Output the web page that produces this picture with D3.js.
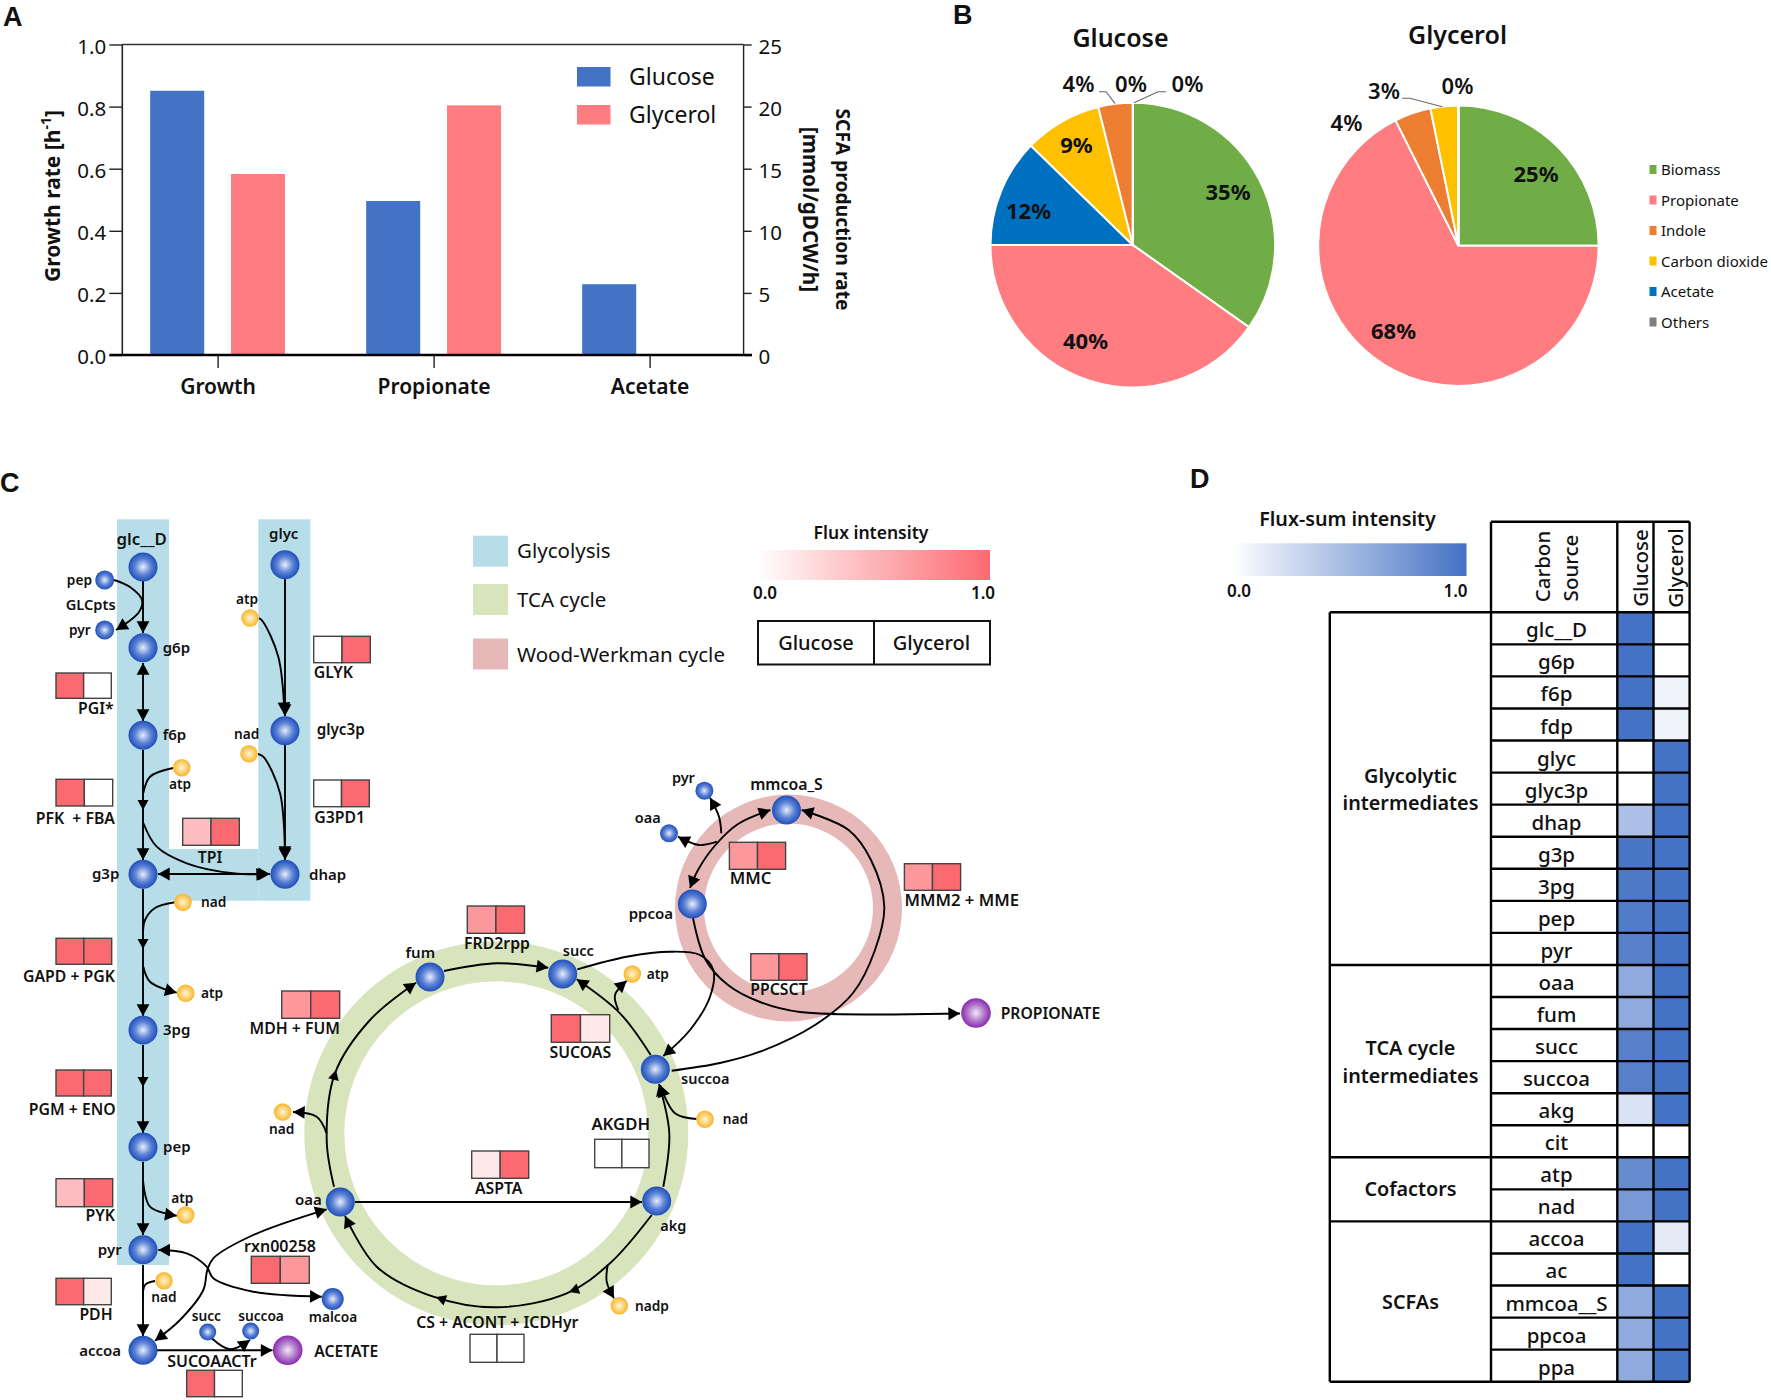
<!DOCTYPE html>
<html><head><meta charset="utf-8">
<script src="https://cdn.jsdelivr.net/npm/d3@7"></script>
<style>html,body{margin:0;background:#fff}svg{display:block}text{font-family:"Noto Sans","Open Sans",sans-serif;fill:#111;white-space:pre}</style>
</head><body><div id="c"></div>
<script>
// ---------- DATA ----------
const barCategories = ["Growth","Propionate","Acetate"];
const barSeries = ["Glucose","Glycerol"];
const growthGlucose = 0.851, growthGlycerol = 0.583;      // left axis
const scfaGlucose = [12.4, 5.7], scfaGlycerol = [20.1, 0]; // right axis
const leftTicks = [0,0.2,0.4,0.6,0.8,1.0];
const rightTicks = [0,5,10,15,20,25];

const legendOrder = ["Biomass","Propionate","Indole","Carbon dioxide","Acetate","Others"];
const pieGlucoseCats = ["Biomass","Propionate","Acetate","Carbon dioxide","Indole","Others"];
const pieGlucose = [34.8,40.2,12.3,8.8,3.9,0];
const pieGlycerolCats = ["Biomass","Propionate","Indole","Carbon dioxide","Acetate","Others"];
const pieGlycerol = [25.0,67.6,4.2,3.2,0,0];

const metabolites = ["glc__D","g6p","f6p","fdp","glyc","glyc3p","dhap","g3p","3pg","pep","pyr","oaa","fum","succ","succoa","akg","cit","atp","nad","accoa","ac","mmcoa__S","ppcoa","ppa"];
const fluxSumGlucose = [1,1,1,1,0,0,.45,.97,.95,.93,.9,.6,.6,.9,.9,.2,0,.82,.72,1,1,.6,.6,.6];
const fluxSumGlycerol = [0,0,.08,.08,1,1,1,1,1,1,1,1,1,1,1,1,0,1,1,.15,0,1,1,1];
const groups = ["Glycolytic\nintermediates","TCA cycle\nintermediates","Cofactors","SCFAs"];
const groupSizes = [11,6,2,5];

const reactions = ["GLYK","PGI*","PFK  + FBA","G3PD1","TPI","GAPD + PGK","PGM + ENO","PYK","PDH","rxn00258","SUCOAACTr","MDH + FUM","FRD2rpp","SUCOAS","AKGDH","ASPTA","CS + ACONT + ICDHyr","MMC","MMM2 + MME","PPCSCT"];
const fluxGlucose  = [0,1,1,0,.45,1,1,.45,1,1,1,.7,.7,1,0,.15,0,.7,.7,.7];
const fluxGlycerol = [1,0,0,1,1,1,1,1,.15,.7,0,1,1,.15,0,1,0,1,1,1];

// ---------- PAGE ----------
const svg = d3.select("#c").append("svg").attr("width",1771).attr("height",1400);
const defs = svg.append("defs");
const BLUE="#4472C4", RED="#FF7C80";
function txt(g,s,x,y,o={}){
  return g.append("text").attr("x",x).attr("y",y).attr("dominant-baseline","central")
   .attr("text-anchor",o.a||"middle").attr("font-size",o.s||14).attr("font-weight",o.w||400)
   .style("font-family",o.f||null).attr("transform",o.r?`rotate(${o.r} ${x} ${y})`:null).text(s);
}
// Panel letters
[["A",3,17],["B",953,15],["C",0,483],["D",1190,479]].forEach(d=>txt(svg,d[0],d[1],d[2],{a:"start",s:27,w:700,f:"'Liberation Sans',Arial,sans-serif"}));

// ---------- PANEL A ----------
const A = svg.append("g");
const ax = {l:122.3,r:743.6,t:44.5,b:355};
const yLeft = d3.scaleLinear().domain([0,1]).range([ax.b,ax.t]);
const yRight = d3.scaleLinear().domain([0,25]).range([ax.b,ax.t]);
const xCat = d3.scalePoint().domain(barCategories).range([217.6,649.6]);
const barW = 54, barOff = 40.4;
const barData = [
 {c:"Growth",s:0,top:yLeft(growthGlucose)},{c:"Growth",s:1,top:yLeft(growthGlycerol)},
 {c:"Propionate",s:0,top:yRight(scfaGlucose[0])},{c:"Propionate",s:1,top:yRight(scfaGlycerol[0])},
 {c:"Acetate",s:0,top:yRight(scfaGlucose[1])},{c:"Acetate",s:1,top:yRight(scfaGlycerol[1])}];
A.selectAll("rect.b").data(barData).join("rect").attr("class","b")
 .attr("x",d=>xCat(d.c)+(d.s?barOff:-barOff)-barW/2).attr("width",barW)
 .attr("y",d=>d.top).attr("height",d=>ax.b-d.top).attr("fill",d=>d.s?RED:BLUE);
const leftAxis = A.append("g").attr("transform",`translate(${ax.l},0)`).call(d3.axisLeft(yLeft).tickValues(leftTicks).tickFormat(d3.format(".1f")).tickSize(13).tickPadding(3));
const rightAxis = A.append("g").attr("transform",`translate(${ax.r},0)`).call(d3.axisRight(yRight).tickValues(rightTicks).tickSize(8).tickPadding(7));
const botAxis = A.append("g").attr("transform",`translate(0,${ax.b})`).call(d3.axisBottom(xCat).tickSize(13).tickPadding(11));
[leftAxis,rightAxis,botAxis].forEach(g=>{g.select(".domain").remove();g.selectAll("line").attr("stroke","#222").attr("stroke-width",1.4);g.selectAll("text").attr("font-size",20.5).style("fill","#111");});
leftAxis.selectAll("text").attr("dy","0.42em");rightAxis.selectAll("text").attr("dy","0.42em");
botAxis.selectAll("text").attr("font-size",21).attr("font-weight",600);
A.append("line").attr("x1",ax.l).attr("x2",ax.r).attr("y1",ax.t).attr("y2",ax.t).attr("stroke","#333").attr("stroke-width",1.6);
A.append("line").attr("x1",ax.l).attr("x2",ax.l).attr("y1",ax.t).attr("y2",ax.b).attr("stroke","#222").attr("stroke-width",1.6);
A.append("line").attr("x1",ax.r).attr("x2",ax.r).attr("y1",ax.t).attr("y2",ax.b).attr("stroke","#222").attr("stroke-width",1.4);
A.append("line").attr("x1",109.5).attr("x2",752).attr("y1",ax.b).attr("y2",ax.b).attr("stroke","#000").attr("stroke-width",2.5);
barSeries.forEach((s,i)=>{
  const y=[67,105][i];
  A.append("rect").attr("x",577).attr("y",y).attr("width",33.5).attr("height",19.5).attr("fill",i?RED:BLUE);
  txt(A,s,629,y+9,{a:"start",s:23});
});
const t1=A.append("text").attr("transform","translate(52,196) rotate(-90)").attr("text-anchor","middle").attr("dominant-baseline","central").attr("font-size",21).attr("font-weight",700).text("Growth rate [h");
t1.append("tspan").attr("font-size",14).attr("dy",-7).text("-1");
t1.append("tspan").attr("dy",7).text("]");
txt(A,"SCFA production rate",843.5,209.5,{s:19.3,w:700,r:90});
txt(A,"[mmol/gDCW/h]",811,209.5,{s:20.7,w:700,r:90});

// ---------- PANEL B ----------
const B = svg.append("g");
const pieColors = d3.scaleOrdinal().domain(legendOrder).range(["#70AD47","#FF7C80","#ED7D31","#FFC000","#0070C0","#7F7F7F"]);
const pieGen = d3.pie().sort(null).value(d=>d.v);
function drawPie(cats,vals,cx,cy,r){
  const g=B.append("g").attr("transform",`translate(${cx},${cy})`);
  const arc=d3.arc().innerRadius(0).outerRadius(r);
  g.selectAll("path").data(pieGen(cats.map((c,i)=>({c,v:vals[i]})))).join("path")
   .attr("d",arc).attr("fill",d=>pieColors(d.data.c)).attr("stroke","#fff").attr("stroke-width",2);
}
drawPie(pieGlucoseCats,pieGlucose,1132.8,245,142.3);
drawPie(pieGlycerolCats,pieGlycerol,1458.4,245.7,140.2);
txt(B,"Glucose",1120.5,36.5,{s:25,w:600});
txt(B,"Glycerol",1457.5,33.5,{s:25,w:600});
[["35%",1228,191],["40%",1085.5,340],["12%",1028.5,209.5],["9%",1076.5,144],["25%",1536,172.5],["68%",1393.5,329.5]]
 .forEach(d=>txt(B,d[0],d[1],d[2],{s:22,w:700}));
[["4%",1078.5,83],["0%",1131,83],["0%",1187.5,82.5],["4%",1346.5,122],["3%",1384,90],["0%",1457.5,85]]
 .forEach(d=>txt(B,d[0],d[1],d[2],{s:22,w:600}));
const leader=d3.line();
[[[1099,91.7],[1106,91.7],[1115,103.3]],[[1166,91.7],[1158,91.7],[1134,102.7]],[[1402,98.3],[1410,98.3],[1442.3,106.7]]]
 .forEach(p=>B.append("path").attr("d",leader(p)).attr("fill","none").attr("stroke","#666").attr("stroke-width",1.1));
const yLeg=d3.scalePoint().domain(legendOrder).range([169.5,322]);
legendOrder.forEach(c=>{
  B.append("rect").attr("x",1649.5).attr("y",yLeg(c)-4.5).attr("width",7).attr("height",9).attr("fill",pieColors(c));
  txt(B,c,1661,yLeg(c)-0.5,{a:"start",s:15});
});

// ---------- PANEL C : backgrounds ----------
const C = svg.append("g");
const GLY="#B6DDE8";
[[117,519.3,52,745.7],[258.3,519.3,52,381.4],[169,849,89.3,51.7]].forEach(r=>C.append("rect").attr("x",r[0]).attr("y",r[1]).attr("width",r[2]).attr("height",r[3]).attr("fill",GLY));
const ring=(cx,cy,ri,ro,f)=>C.append("path").attr("transform",`translate(${cx},${cy})`)
  .attr("d",d3.arc().innerRadius(ri).outerRadius(ro).startAngle(0).endAngle(2*Math.PI)()).attr("fill",f);
ring(496.3,1133.3,152,192,"#D7E4BC");
ring(788.5,908,84.5,113.5,"#E6B9B8");

// legends
[["Glycolysis",GLY,535.7,550],["TCA cycle","#D7E4BC",584,599],["Wood-Werkman cycle","#E6B9B8",638.5,653.5]].forEach(d=>{
  C.append("rect").attr("x",473).attr("y",d[2]).attr("width",35).attr("height",31).attr("fill",d[1]);
  txt(C,d[0],517,d[3],{a:"start",s:20.5});
});
function gradient(id,c){const g=defs.append("linearGradient").attr("id",id);
  g.append("stop").attr("offset",0).attr("stop-color","#fff");g.append("stop").attr("offset",1).attr("stop-color",c);}
const FLUX="#FB6A70";
gradient("gFlux",FLUX);gradient("gSum",BLUE);
txt(C,"Flux intensity",871,532,{s:17.5,w:600});
C.append("rect").attr("x",757).attr("y",550).attr("width",233).attr("height",30).attr("fill","url(#gFlux)");
txt(C,"0.0",765,592,{s:17,w:600});txt(C,"1.0",983,592,{s:17,w:600});
C.append("rect").attr("x",758).attr("y",621).attr("width",232).attr("height",43.5).attr("fill","#fff").attr("stroke","#111").attr("stroke-width",2);
C.append("line").attr("x1",874).attr("x2",874).attr("y1",621).attr("y2",664.5).attr("stroke","#111").attr("stroke-width",2);
txt(C,"Glucose",816,642,{s:20,w:500});txt(C,"Glycerol",931.5,642,{s:20,w:500});

// ---------- PANEL C : arrows ----------
const mk=(id,orient)=>defs.append("marker").attr("id",id).attr("markerUnits","userSpaceOnUse").attr("markerWidth",14).attr("markerHeight",14)
  .attr("viewBox","-11 -6 12 12").attr("refX",0).attr("refY",0).attr("orient",orient).append("path").attr("d","M-10,-5.5L0,0L-10,5.5Z").attr("fill","#000");
mk("ah","auto");mk("ahb","auto-start-reverse");
const curve=d3.line().curve(d3.curveCatmullRom.alpha(0.5));
// [points, kind] kind: 1 end arrow, 2 both arrows, 0 none
const arrows=[
 [[[143,581],[143,633]],1],
 [[[114,580],[130,587],[142,600],[139,612],[116,630]],1],
 [[[143,663],[143,721]],2],
 [[[143,750],[143,860]],1],
 [[[173,768],[150,776.7],[143.3,793]],0],
 [[[143.3,823],[156.7,846.7],[186.7,863.3],[233,873.3],[268,874]],1],
 [[[158,874],[270,874]],2],
 [[[285,579],[285,716]],1],
 [[[259,618],[263,621.7],[278.3,656.7],[284.5,714]],1],
 [[[285,745],[285,860]],1],
 [[[258,754],[263.3,756.7],[280,793],[285,858]],1],
 [[[143,889],[143,1016]],1],
 [[[175,902.3],[155,908],[145,920],[143,932]],0],
 [[[143.3,966.7],[150,981.7],[176.7,992.7]],1],
 [[[143,1045],[143,1133]],1],
 [[[143,1162],[143,1235]],1],
 [[[143,1180],[150,1206.7],[176.7,1215.7]],1],
 [[[143,1265],[143,1336]],1],
 [[[155,1281],[145,1285],[143,1300]],0],
 [[[321.7,1296.7],[253.3,1291.7],[213.3,1278.3],[206.7,1266.7],[186.7,1253.3],[158.3,1250]],2],
 [[[326.7,1209.3],[253.3,1235],[213.3,1258.3],[207.3,1270],[203.3,1290],[180,1320],[155,1340.7]],2],
 [[[157,1350.3],[272.5,1350.3]],1],
 [[[211.7,1338.3],[230,1349.3],[250,1340]],1],
 [[[326.7,1133.3],[316.7,1116.7],[293,1112]],1],
 [[[334,1186.7],[326.7,1140],[335,1073.3],[370,1020],[416,982.7]],1],
 [[[444,971],[496.7,963.3],[548.3,967.7]],1],
 [[[650.7,1055],[620,1013.3],[576.7,979.3]],1],
 [[[618.3,1010],[615,995],[626.7,980.7]],1],
 [[[663.3,1186.7],[669.3,1133.3],[659,1084]],1],
 [[[696.7,1119],[675,1113.3],[660,1085]],1],
 [[[355,1202],[642,1202]],1],
 [[[651.7,1215],[610,1263.3],[566.7,1293.3],[496.7,1307.3],[433.3,1296.7],[376.7,1266.7],[345,1216]],1],
 [[[607.7,1265],[606.7,1281.7],[614,1298.3]],1],
 [[[577.3,969.3],[626.7,956.7],[670,951.7],[700,955],[713.3,970],[710,996.7],[690,1030],[663.3,1056]],1],
 [[[693,918],[705.7,960],[728,985],[760,1002],[800,1012],[960,1013.5]],1],
 [[[770.4,810],[738,824],[714.6,846],[698,870],[690,888]],2],
 [[[671.7,1070.7],[720,1063],[760,1051.7],[815,1025],[853,993],[875,950],[884.3,906.7],[871,860],[848.6,830],[801.7,810]],1],
 [[[721.3,833.3],[719,816.7],[710,797.7]],1],
 [[[716.9,841.7],[699,845],[678,836.7]],1]
];
C.selectAll("path.arrow").data(arrows).join("path").attr("class","arrow").attr("d",d=>curve(d[0])).attr("fill","none")
 .attr("stroke","#000").attr("stroke-width",1.9)
 .attr("marker-end",d=>d[1]?"url(#ah)":null).attr("marker-start",d=>d[1]==2?"url(#ahb)":null);
// heads sitting on straight runs (x, y, direction in degrees)
const midHeads=[[143,810,90],[143,949,90],[143,1087,90],[336,1070,-75],[569,1292,160],[436,1297,-160]];
C.selectAll("path.mid").data(midHeads).join("path").attr("class","mid").attr("d","M-10,-5.5L0,0L-10,5.5Z")
 .attr("transform",d=>`translate(${d[0]},${d[1]}) rotate(${d[2]})`);

// ---------- PANEL C : nodes ----------
function bubble(id,a,b,c){const g=defs.append("radialGradient").attr("id",id).attr("cx","50%").attr("cy","50%").attr("r","50%");
  [[0,a],[.55,b],[1,c]].forEach(s=>g.append("stop").attr("offset",s[0]).attr("stop-color",s[1]));}
bubble("nb","#E8EEFA","#5D83D6","#1F4FB8");
bubble("no","#FFF4D8","#FBD374","#F7B52C");
bubble("np","#F3E8F6","#B27CCB","#8A2BAE");
const fills={b:"url(#nb)",o:"url(#no)",p:"url(#np)"};
// [kind, x, y, r]
const nodes=[
 ["b",143,567,14.5],["b",143,647.7,14.5],["b",143,735.3,14.5],["b",143,874.3,14.5],["b",143,1030,14.5],["b",143,1147,14.5],["b",143,1249.7,14.5],["b",143,1350.3,14.5],
 ["b",285,564.7,14.5],["b",285,730.7,14.5],["b",285,874.3,14.5],
 ["b",104.7,580,9.5],["b",104.7,630,9.5],["b",332.7,1299,11],["b",207.7,1332,8.5],["b",250.7,1331,8.5],
 ["b",340.3,1202,14.5],["b",430,977,14.5],["b",562.7,974,14.5],["b",655.3,1069.3,14.5],["b",656.7,1201,14.5],
 ["b",786.5,810,14.5],["b",692.3,904,14.5],["b",704.4,790.7,9],["b",669,833.3,9],
 ["o",250,618,8.8],["o",249,753.7,8.8],["o",181.7,767.7,8.8],["o",183,902.3,8.8],["o",185.7,993.3,8.8],["o",185.7,1215,8.8],["o",164,1280.7,8.8],
 ["o",282.7,1112,8.8],["o",632.3,974,8.8],["o",705,1119.3,8.8],["o",619.3,1305.7,8.8],
 ["p",287.7,1350.3,14.8],["p",976,1013,14.8]
];
C.selectAll("circle.n").data(nodes).join("circle").attr("class","n").attr("cx",d=>d[1]).attr("cy",d=>d[2]).attr("r",d=>d[3]).attr("fill",d=>fills[d[0]]);

// ---------- PANEL C : labels ----------
const nodeLabels=[
 ["glc__D",141.7,538,"middle",16.8],["g6p",162.7,646.7,"start",15],["f6p",162.7,734,"start",15],["glyc",283.7,533,"middle",15],["glyc3p",316.7,728.7,"start",15.2],["dhap",309,874,"start",15],["g3p",119.3,873,"end",15],
 ["pep",92,579,"end",13.7],["pyr",90.7,629,"end",13.7],["GLCpts",90.7,604,"middle",14.6],
 ["atp",247,598.3,"middle",13.7],["nad",246.7,733.7,"middle",13.7],["atp",180,783.3,"middle",13.7],["nad",201,901.3,"start",13.7],["atp",201,992.3,"start",13.7],
 ["3pg",163,1029,"start",15],["pep",163,1146,"start",15],["atp",182.3,1197,"middle",13.7],["pyr",121.7,1249,"end",15],["nad",164,1296,"middle",13.7],["accoa",121,1350,"end",15],
 ["succ",206.3,1315.7,"middle",13.7],["succoa",261,1315.7,"middle",13.7],["malcoa",333,1316.7,"middle",13.7],["ACETATE",314.3,1350.7,"start",15.7],["oaa",321.7,1199.3,"end",15],["nad",281.7,1128.3,"middle",13.7],
 ["fum",420.3,952.3,"middle",15],["succ",578.3,950,"middle",14.5],["atp",646.7,973,"start",13.7],["succoa",705.3,1078.3,"middle",14.5],["nad",722.7,1118.3,"start",13.7],["akg",673.3,1225,"middle",14.5],["nadp",635,1305,"start",13.7],
 ["pyr",683.4,777.3,"middle",14.5],["oaa",647.7,816.7,"middle",14.5],["mmcoa_S",786.5,784.3,"middle",15.8],["ppcoa",673,913.3,"end",15],["PROPIONATE",1000.7,1013,"start",15.7]
];
nodeLabels.forEach(d=>txt(C,d[0],d[1],d[2],{a:d[3],s:d[4],w:600}));

// ---------- PANEL C : reaction boxes ----------
const fluxColor=d3.scaleLinear().domain([0,1]).range(["#ffffff",FLUX]);
// reaction -> [box x0, x1, y0, y1, label x, label y, anchor, size]
const boxLayout={
 "GLYK":[313.7,370.3,636.3,662.7,313.7,671.7,"start"],"PGI*":[56,111.3,673,698.3,113.7,708.3,"end"],
 "PFK  + FBA":[56,112.7,779.3,806,115,818.3,"end"],"G3PD1":[313.7,369.3,780,806.7,314.3,817,"start"],
 "TPI":[182.7,239.3,818.3,845.3,210,857.3,"middle"],"GAPD + PGK":[56,111.7,938.3,964.3,115,976,"end"],
 "PGM + ENO":[56,111.3,1070,1096,115.7,1109,"end"],"PYK":[56,112.7,1178.7,1206.7,115,1215,"end"],
 "PDH":[56,111.3,1278.3,1304.7,96,1314,"middle"],"rxn00258":[251.3,309.3,1256.3,1283.3,280,1246,"middle",16],
 "SUCOAACTr":[186.7,242.3,1370.3,1396.7,212,1360.7,"middle",16],"MDH + FUM":[281.7,339.7,991,1018.3,294.7,1028,"middle"],
 "FRD2rpp":[467.3,524.5,906,933.3,497,943,"middle"],"SUCOAS":[551.3,609.7,1014.7,1042.3,580.3,1051.7,"middle"],
 "AKGDH":[594.7,649,1139.3,1167.7,620.7,1123.7,"middle",16.7],"ASPTA":[471.7,528.7,1151,1178.3,498.7,1187.7,"middle"],
 "CS + ACONT + ICDHyr":[470,524,1334.3,1362.3,497.3,1322.3,"middle"],"MMC":[729.4,785.6,842.3,869.3,729.8,877.3,"start",16.7],
 "MMM2 + MME":[904.4,960.6,863.7,890.3,904.4,899,"start",16.7],"PPCSCT":[750.8,807,953.7,980.3,779,989,"middle"]
};
reactions.forEach((name,i)=>{
  const b=boxLayout[name], mid=(b[0]+b[1])/2;
  const vals=[fluxGlucose[i],fluxGlycerol[i]];
  vals.forEach((v,j)=>C.append("rect").attr("x",j?mid:b[0]).attr("y",b[2]).attr("width",(b[1]-b[0])/2).attr("height",b[3]-b[2])
    .attr("fill",fluxColor(v)).attr("stroke","#444").attr("stroke-width",1.4));
  txt(C,name,b[4],b[5],{a:b[6],s:b[7]||15.8,w:600});
});

// ---------- PANEL D ----------
const D = svg.append("g");
txt(D,"Flux-sum intensity",1347.5,518.5,{s:19.7,w:600});
D.append("rect").attr("x",1231.7).attr("y",543.3).attr("width",234.8).attr("height",32.7).attr("fill","url(#gSum)");
txt(D,"0.0",1239,590.5,{s:17,w:600});txt(D,"1.0",1455.5,590.5,{s:17,w:600});
const tX={g0:1329.8,n0:1491,c0:1617.3,c1:1653.5,c2:1689.6,hTop:521.7,hBot:612.3,bot:1381.7};
const yRow=d3.scaleBand().domain(metabolites).range([tX.hBot,tX.bot]);
const sumColor=d3.scaleLinear().domain([0,1]).range(["#ffffff",BLUE]);
metabolites.forEach((m,i)=>{
  D.append("rect").attr("x",tX.c0).attr("y",yRow(m)).attr("width",tX.c1-tX.c0).attr("height",yRow.bandwidth()).attr("fill",sumColor(fluxSumGlucose[i]));
  D.append("rect").attr("x",tX.c1).attr("y",yRow(m)).attr("width",tX.c2-tX.c1).attr("height",yRow.bandwidth()).attr("fill",sumColor(fluxSumGlycerol[i]));
  txt(D,m,1556.5,yRow(m)+yRow.bandwidth()/2+1,{s:20.5,w:500});
});
const L=(x1,y1,x2,y2)=>D.append("line").attr("x1",x1).attr("x2",x2).attr("y1",y1).attr("y2",y2).attr("stroke","#000").attr("stroke-width",2.4);
metabolites.slice(1).forEach(m=>L(tX.n0,yRow(m),tX.c2,yRow(m)));
L(tX.n0,tX.hTop,tX.c2,tX.hTop);
L(tX.g0,tX.hBot,tX.c2,tX.hBot);
L(tX.g0,tX.bot,tX.c2,tX.bot);
[tX.n0,tX.c0,tX.c1,tX.c2].forEach(x=>L(x,tX.hTop,x,tX.bot));
L(tX.g0,tX.hBot,tX.g0,tX.bot);
let cum=0;
const groupY=[[775.5,802.8],[1047,1075.2],[1188.5],[1301.5]];
groups.forEach((g,i)=>{
  g.split("\n").forEach((line,j)=>txt(D,line,1410.5,groupY[i][j],{s:19.8,w:600}));
  cum+=groupSizes[i];
  if(cum<metabolites.length) L(tX.g0,yRow(metabolites[cum]),tX.n0,yRow(metabolites[cum]));
});
txt(D,"Carbon",1541.5,566.5,{s:20.5,w:500,r:-90});
txt(D,"Source",1570,568,{s:20.5,w:500,r:-90});
txt(D,"Glucose",1639.5,568,{s:20.5,w:500,r:-90});
txt(D,"Glycerol",1675,568,{s:20.5,w:500,r:-90});
</script></body></html>
